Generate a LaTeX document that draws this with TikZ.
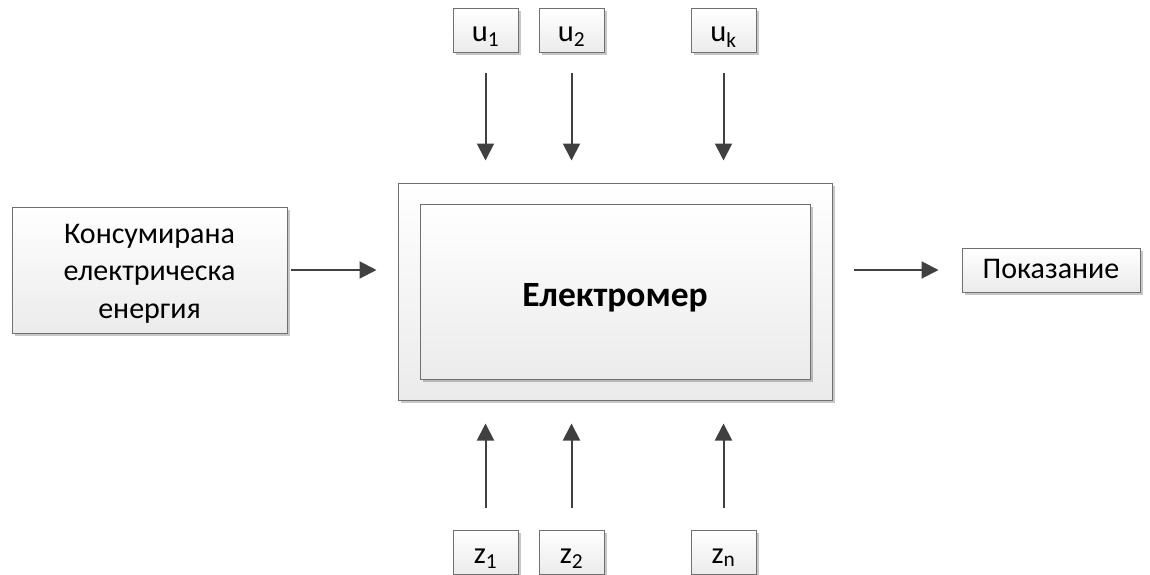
\documentclass[tikz,border=0pt]{standalone}
\usepackage{fontspec}
\setmainfont{Carlito}
\usetikzlibrary{arrows.meta,shadows}
\definecolor{arrc}{HTML}{404040}
\definecolor{bord}{HTML}{707070}
\definecolor{boxbot}{HTML}{EBEBEB}
\tikzset{
  blk/.style={draw=bord, line width=1pt, top color=white, bottom color=boxbot,
    drop shadow={shadow xshift=2.5pt, shadow yshift=-2.5pt, opacity=0.22, fill=black},
    inner sep=0pt, align=center},
  arr/.style={draw=arrc, line width=2pt, -{Triangle[length=17pt,width=17pt]}},
  small/.style={blk, minimum width=65pt, minimum height=44pt, font=\fontsize{30.5}{36}\selectfont, text height=21.4pt, text depth=0pt},
}
\begin{document}
\begin{tikzpicture}[x=1pt,y=-1pt]
\useasboundingbox[fill=white] (0,0) rectangle (1150,575);
\node[blk, minimum width=434pt, minimum height=217pt] (outer) at (615,291.5) {};
\node[blk, minimum width=390pt, minimum height=175pt, font=\fontsize{35.5}{40}\selectfont\bfseries, text height=30.5pt, text depth=0pt] (inner) at (615,291.5) {Електромер};
\node[blk, minimum width=275pt, minimum height=126pt] (src) at (149.5,270) {};
\node[font=\fontsize{30}{37.5}\selectfont, align=center, inner sep=0pt] (srctxt) at (149.5,273.5) {Консумирана\\електрическа\\енергия};
\node[blk, minimum width=178pt, minimum height=44pt, font=\fontsize{30}{36}\selectfont, text height=16.6pt, text depth=0pt] (out) at (1051,270) {Показание};
\node[small] (u1) at (485.5,31) {u\textsubscript{1}};
\node[small] (u2) at (571.5,31) {u\textsubscript{2}};
\node[small] (uk) at (723.5,31) {u\textsubscript{k}};
\node[small] (z1) at (485.5,552.3) {z\textsubscript{1}};
\node[small] (z2) at (571.5,552.3) {z\textsubscript{2}};
\node[small] (zn) at (723.5,552.3) {z\textsubscript{n}};
\foreach \n in {u1,u2,uk}
  \draw[arr, shorten <=20pt, shorten >=22pt] (\n.south) -- (\n.south |- outer.north);
\foreach \n in {z1,z2,zn}
  \draw[arr, shorten <=22pt, shorten >=23pt] (\n.north) -- (\n.north |- outer.south);
\draw[arr, shorten <=3pt, shorten >=21pt] (src.east) -- (src.east -| outer.west);
\draw[arr, shorten <=21pt, shorten >=23pt] (outer.east |- out.west) -- (out.west);
\end{tikzpicture}
\end{document}
